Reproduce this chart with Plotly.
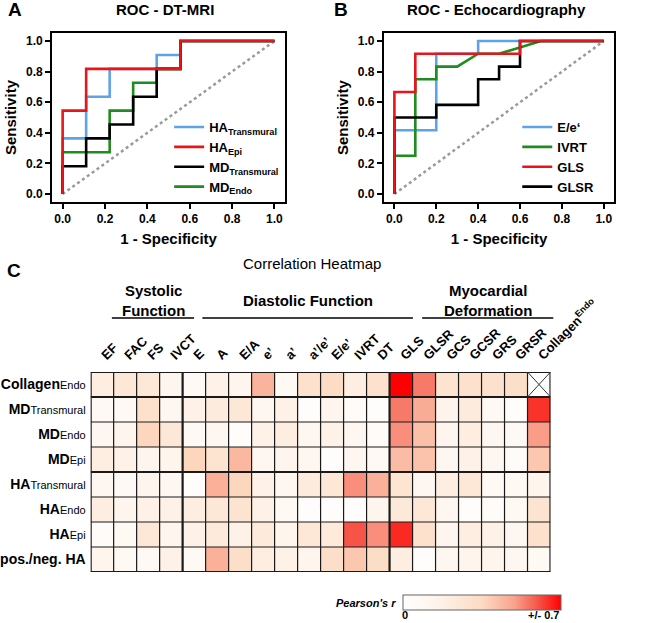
import plotly.graph_objects as go

W, H = 666, 623
def px(x): return x / W
def py(y): return 1 - y / H

FONT = "Liberation Sans, Arial, sans-serif"

# ---------------- ROC A (DT-MRI) ----------------
a_ha_trans_x = [0, 0, 0.111, 0.111, 0.222, 0.222, 0.444, 0.444, 0.556, 0.556, 1.0]
a_ha_trans_y = [0, 0.364, 0.364, 0.636, 0.636, 0.818, 0.818, 0.909, 0.909, 1.0, 1.0]
a_ha_epi_x = [0, 0, 0.111, 0.111, 0.556, 0.556, 1.0]
a_ha_epi_y = [0, 0.545, 0.545, 0.818, 0.818, 1.0, 1.0]
a_md_trans_x = [0, 0, 0.111, 0.111, 0.222, 0.222, 0.333, 0.333, 0.444, 0.444, 0.556, 0.556, 1.0]
a_md_trans_y = [0, 0.182, 0.182, 0.364, 0.364, 0.455, 0.455, 0.636, 0.636, 0.818, 0.818, 1.0, 1.0]
a_md_endo_x = [0, 0, 0.222, 0.222, 0.333, 0.333, 0.444, 0.444, 0.556, 0.556, 1.0]
a_md_endo_y = [0, 0.273, 0.273, 0.545, 0.545, 0.727, 0.727, 0.818, 0.818, 1.0, 1.0]

# ---------------- ROC B (Echocardiography) ----------------
b_ee_x = [0, 0, 0.2, 0.2, 0.4, 0.4, 1.0]
b_ee_y = [0, 0.417, 0.417, 0.917, 0.917, 1.0, 1.0]
b_ivrt_x = [0, 0, 0.1, 0.1, 0.2, 0.2, 0.3, 0.4, 0.5, 0.7, 1.0]
b_ivrt_y = [0, 0.25, 0.25, 0.75, 0.75, 0.833, 0.833, 0.917, 0.917, 1.0, 1.0]
b_gls_x = [0, 0, 0.1, 0.1, 0.6, 0.6, 1.0]
b_gls_y = [0, 0.667, 0.667, 0.917, 0.917, 1.0, 1.0]
b_glsr_x = [0, 0, 0.2, 0.2, 0.4, 0.4, 0.5, 0.5, 0.6, 0.6, 1.0]
b_glsr_y = [0, 0.5, 0.5, 0.583, 0.583, 0.75, 0.75, 0.833, 0.833, 1.0, 1.0]

diag = [0, 1]
roc_ticks = [0.0, 0.2, 0.4, 0.6, 0.8, 1.0]

# ---------------- Heatmap ----------------
col_labels = ["EF", "FAC", "FS", "IVCT", "E", "A", "E/A", "e’", "a’", "a’/e’", "E/e’",
              "IVRT", "DT", "GLS", "GLSR", "GCS", "GCSR", "GRS", "GRSR",
              "Collagen<sup>Endo</sup>"]
row_labels = [
    "<b>Collagen</b><span style='font-size:11px'>Endo</span>",
    "<b>MD</b><span style='font-size:11px'>Transmural</span>",
    "<b>MD</b><span style='font-size:11px'>Endo</span>",
    "<b>MD</b><span style='font-size:11px'>Epi</span>",
    "<b>HA</b><span style='font-size:11px'>Transmural</span>",
    "<b>HA</b><span style='font-size:11px'>Endo</span>",
    "<b>HA</b><span style='font-size:11px'>Epi</span>",
    "<b>pos./neg. HA</b>",
]
r_collagen_endo = [0.20, 0.25, 0.25, 0.12, 0.07, 0.17, 0.12, 0.45, 0.08, 0.30, 0.34, 0.20, 0.30, 0.70, 0.55, 0.28, 0.30, 0.30, 0.32, None]
r_md_transmural = [0.07, 0.07, 0.30, 0.10, 0.17, 0.22, 0.25, 0.10, 0.17, 0.03, 0.12, 0.05, 0.02, 0.55, 0.47, 0.14, 0.22, 0.08, 0.03, 0.64]
r_md_endo = [0.10, 0.13, 0.36, 0.25, 0.07, 0.10, 0.04, 0.17, 0.20, 0.10, 0.17, 0.10, 0.05, 0.52, 0.42, 0.12, 0.20, 0.10, 0.07, 0.50]
r_md_epi = [0.20, 0.17, 0.12, 0.13, 0.36, 0.28, 0.44, 0.10, 0.12, 0.10, 0.03, 0.10, 0.07, 0.43, 0.41, 0.10, 0.17, 0.10, 0.05, 0.40]
r_ha_transmural = [0.10, 0.07, 0.12, 0.10, 0.03, 0.46, 0.36, 0.17, 0.10, 0.22, 0.25, 0.52, 0.46, 0.27, 0.10, 0.20, 0.25, 0.07, 0.08, 0.13]
r_ha_endo = [0.20, 0.12, 0.17, 0.17, 0.20, 0.25, 0.28, 0.17, 0.08, 0.03, 0.03, 0.03, 0.13, 0.24, 0.25, 0.10, 0.03, 0.05, 0.08, 0.28]
r_ha_epi = [0.05, 0.08, 0.25, 0.12, 0.17, 0.23, 0.17, 0.23, 0.13, 0.25, 0.23, 0.60, 0.52, 0.65, 0.30, 0.12, 0.20, 0.17, 0.10, 0.30]
r_pos_neg_ha = [0.13, 0.08, 0.07, 0.17, 0.07, 0.46, 0.32, 0.20, 0.17, 0.12, 0.32, 0.40, 0.33, 0.20, 0.03, 0.10, 0.13, 0.13, 0.10, 0.08]
z = [r_collagen_endo, r_md_transmural, r_md_endo, r_md_epi,
     r_ha_transmural, r_ha_endo, r_ha_epi, r_pos_neg_ha]

BLUE = "#5DA3E8"
RED = "#E8151B"
BLACK = "#000000"
GREEN = "#1E8C1E"
LW = 2.6

fig = go.Figure()

def line_trace(x, y, color, name, xa, ya, legend, rank, show=True):
    return go.Scatter(x=x, y=y, mode="lines", line=dict(color=color, width=LW),
                      name=name, xaxis=xa, yaxis=ya, legend=legend,
                      legendrank=rank, showlegend=show)

# diagonals
for xa, ya in [("x", "y"), ("x2", "y2")]:
    fig.add_trace(go.Scatter(x=diag, y=diag, mode="lines",
                             line=dict(color="#9a9a9a", width=2.5, dash="dot"),
                             xaxis=xa, yaxis=ya, showlegend=False, hoverinfo="skip"))

# ROC A
fig.add_trace(line_trace(a_ha_trans_x, a_ha_trans_y, BLUE, "HA<sub>Transmural</sub>", "x", "y", "legend", 1))
fig.add_trace(line_trace(a_md_endo_x, a_md_endo_y, GREEN, "MD<sub>Endo</sub>", "x", "y", "legend", 4))
fig.add_trace(line_trace(a_md_trans_x, a_md_trans_y, BLACK, "MD<sub>Transmural</sub>", "x", "y", "legend", 3))
fig.add_trace(line_trace(a_ha_epi_x, a_ha_epi_y, RED, "HA<sub>Epi</sub>", "x", "y", "legend", 2))

# ROC B
fig.add_trace(line_trace(b_ee_x, b_ee_y, BLUE, "E/e‘", "x2", "y2", "legend2", 1))
fig.add_trace(line_trace(b_ivrt_x, b_ivrt_y, GREEN, "IVRT", "x2", "y2", "legend2", 2))
fig.add_trace(line_trace(b_glsr_x, b_glsr_y, BLACK, "GLSR", "x2", "y2", "legend2", 4))
fig.add_trace(line_trace(b_gls_x, b_gls_y, RED, "GLS", "x2", "y2", "legend2", 3))

# Heatmap
colorscale = [[0.0, "#FFFFFF"], [0.25, "#FEF1E6"], [0.5, "#FCDBC2"],
              [0.7, "#F9A48E"], [0.85, "#F5584A"], [1.0, "#FF0000"]]
fig.add_trace(go.Heatmap(
    z=z, x=list(range(len(col_labels))), y=list(range(len(row_labels))),
    xaxis="x3", yaxis="y3", zmin=0, zmax=0.7, colorscale=colorscale,
    showscale=True, hoverongaps=False,
    colorbar=dict(orientation="h", x=px(434), xanchor="left", y=py(611), yanchor="bottom",
                  len=158, lenmode="pixels", thickness=15, xpad=0, ypad=0,
                  outlinewidth=1, outlinecolor="#666", showticklabels=False, ticks=""),
))

axis_common = dict(showline=True, mirror=True, linecolor="black", linewidth=2,
                   ticks="outside", ticklen=5, tickwidth=2, tickcolor="black",
                   showgrid=False, zeroline=False, range=[-0.05, 1.05],
                   tickvals=roc_ticks, tickformat=".1f",
                   tickfont=dict(family=FONT, size=12, color="black", weight="bold"))
title_font = dict(family=FONT, size=15, color="black", weight="bold")
legend_font = dict(family=FONT, size=13, color="black", weight="bold")

ydom = [py(201.7), py(33.4)]
fig.update_layout(
    width=W, height=H, margin=dict(l=0, r=0, t=0, b=0), autosize=False,
    paper_bgcolor="white", plot_bgcolor="white",
    font=dict(family=FONT, color="black"),
    xaxis=dict(domain=[px(54.2), px(306.5)], anchor="y",
               title=dict(text="1 - Specificity", font=title_font, standoff=8), **axis_common),
    yaxis=dict(domain=ydom, anchor="x",
               title=dict(text="Sensitivity", font=title_font, standoff=6), **axis_common),
    xaxis2=dict(domain=[px(413.6), px(663)], anchor="y2",
                title=dict(text="1 - Specificity", font=title_font, standoff=8), **axis_common),
    yaxis2=dict(domain=ydom, anchor="x2",
                title=dict(text="Sensitivity", font=title_font, standoff=6), **axis_common),
    xaxis3=dict(domain=[px(96), px(594)], anchor="y3", side="top", range=[-0.5, 19.5],
                tickvals=list(range(len(col_labels))), ticktext=col_labels,
                tickangle=-45, ticks="", showgrid=False, zeroline=False, showline=False,
                ticklabelstandoff=6,
                tickfont=dict(family=FONT, size=13, color="black", weight="bold")),
    yaxis3=dict(domain=[py(572), py(372)], anchor="x3", range=[7.5, -0.5],
                tickvals=list(range(len(row_labels))), ticktext=row_labels,
                ticks="", showgrid=False, zeroline=False, showline=False,
                ticklabelstandoff=4,
                tickfont=dict(family=FONT, size=14, color="black")),
    legend=dict(x=px(181), y=py(112), xanchor="left", yanchor="top",
                bgcolor="rgba(0,0,0,0)", tracegroupgap=0, itemwidth=30,
                font=legend_font),
    legend2=dict(x=px(558), y=py(112), xanchor="left", yanchor="top",
                 bgcolor="rgba(0,0,0,0)", tracegroupgap=0, itemwidth=30,
                 font=legend_font),
)

# grid lines of heatmap
shapes = []
thick_v = {0, 4, 13, 20}
thick_h = {0, 1, 4, 8}
for k in range(len(col_labels) + 1):
    shapes.append(dict(type="line", xref="x3", yref="y3", x0=k - 0.5, x1=k - 0.5,
                       y0=-0.5, y1=7.5, line=dict(color="#1a1a1a", width=2.2 if k in thick_v else 1.2)))
for k in range(len(row_labels) + 1):
    shapes.append(dict(type="line", xref="x3", yref="y3", y0=k - 0.5, y1=k - 0.5,
                       x0=-0.5, x1=19.5, line=dict(color="#1a1a1a", width=2.2 if k in thick_h else 1.2)))
# cross in the empty cell
shapes.append(dict(type="line", xref="x3", yref="y3", x0=18.5, x1=19.5, y0=-0.5, y1=0.5,
                   line=dict(color="#333", width=1)))
shapes.append(dict(type="line", xref="x3", yref="y3", x0=18.5, x1=19.5, y0=0.5, y1=-0.5,
                   line=dict(color="#333", width=1)))
# group underlines
for x0, x1 in [(119, 208), (217, 445), (455, 597)]:
    shapes.append(dict(type="line", xref="paper", yref="paper", x0=px(x0), x1=px(x1),
                       y0=py(318), y1=py(318), line=dict(color="black", width=1.5)))
fig.update_layout(shapes=shapes)

def ann(text, x, y, size, bold=True, xanchor="center", italic=False, yanchor="middle"):
    return dict(text=text, x=px(x), y=py(y), xref="paper", yref="paper",
                xanchor=xanchor, yanchor=yanchor, showarrow=False,
                font=dict(family=FONT, size=size, color="black",
                          weight="bold" if bold else "normal",
                          style="italic" if italic else "normal"))

annotations = [
    ann("A", 14, 10, 19),
    ann("ROC - DT-MRI", 177, 10, 15),
    ann("B", 367, 10, 19),
    ann("ROC - Echocardiography", 535, 10, 15),
    ann("C", 13, 270, 19),
    ann("Correlation Heatmap", 336, 263, 15, bold=False),
    ann("Systolic<br>Function", 164, 300, 15),
    ann("Diastolic Function", 331, 300, 15),
    ann("Myocardial<br>Deformation", 526, 300, 15),
    ann("Pearson's r", 429, 603, 11, xanchor="right", italic=True),
    ann("0", 436, 623, 11, yanchor="bottom"),
    ann("+/- 0.7", 606, 623, 11, xanchor="right", yanchor="bottom"),
]
fig.update_layout(annotations=annotations)

fig.write_html("out.html", config={"displayModeBar": False},
               post_script="document.body.style.margin='0px';")
